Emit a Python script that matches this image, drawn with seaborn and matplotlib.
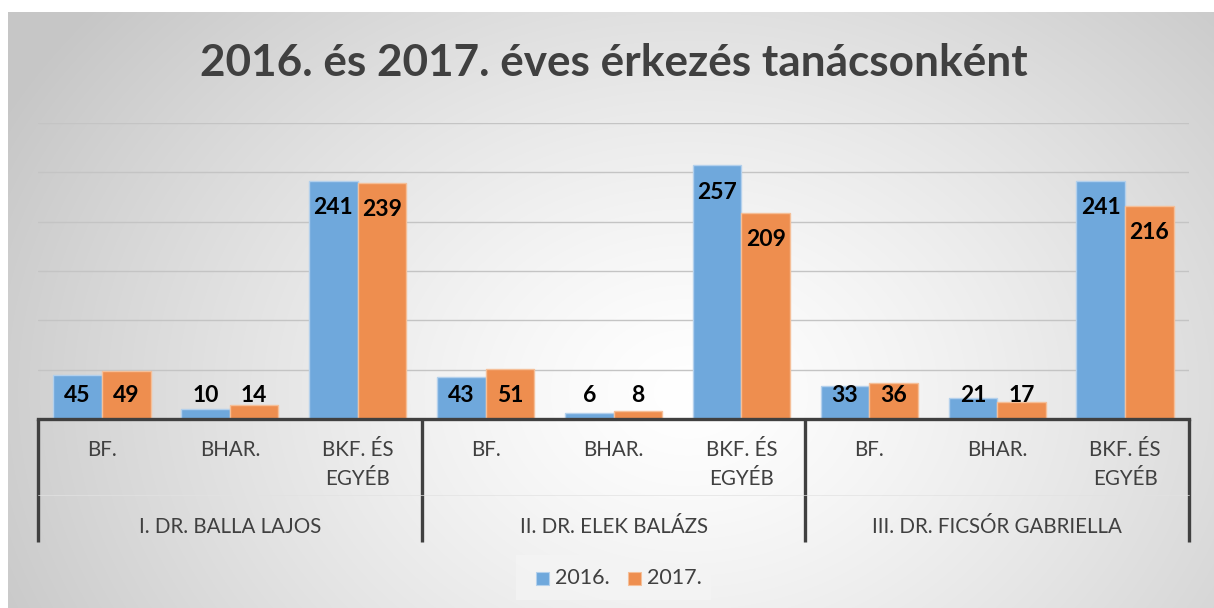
import numpy as np
import pandas as pd
import seaborn as sns
import matplotlib.pyplot as plt
from matplotlib.patches import Rectangle

# Adatok
tanacsok = ['I. DR. BALLA LAJOS', 'II. DR. ELEK BALÁZS', 'III. DR. FICSÓR GABRIELLA']
kategoriak = ['BF.', 'BHAR.', 'BKF. ÉS\nEGYÉB']
ertek_2016 = [45, 10, 241, 43, 6, 257, 33, 21, 241]
ertek_2017 = [49, 14, 239, 51, 8, 209, 36, 17, 216]
evek = ['2016.', '2017.']
szinek = ['#6FA8DC', '#EE8E4F']
keret_szinek = ['#b3d0ec', '#f5bf98']

kulcsok = [f'{t}|{k}' for t in tanacsok for k in kategoriak]
df = pd.DataFrame({
    'kulcs': kulcsok * 2,
    'ertek': ertek_2016 + ertek_2017,
    'ev': [evek[0]] * 9 + [evek[1]] * 9,
})

sns.set_style('white')
plt.rcParams['font.family'] = ['Lato', 'DejaVu Sans']

W, H = 1214, 608
fig = plt.figure(figsize=(W / 100, H / 100), dpi=100, facecolor='white')

# Háttér: radiális átmenet
bg = fig.add_axes([8 / W, 0, 1 - 8 / W, 1 - 12 / H])
yy, xx = np.mgrid[0:596, 0:1206]
d = np.sqrt(((xx - 680) / 640.0) ** 2 + ((yy - 380) / 500.0) ** 2)
szurke = 1 - 0.22 * np.clip(d / 1.2, 0, 1) ** 1.3
bg.imshow(np.dstack([szurke] * 3), aspect='auto', extent=[0, 1, 0, 1], origin='upper')
bg.set_axis_off()

ax = fig.add_axes([38 / W, (H - 419) / H, (1189 - 38) / W, (419 - 123) / H])
ax.patch.set_alpha(0)
sns.barplot(data=df, x='kulcs', y='ertek', hue='ev', palette=szinek, width=0.76,
            saturation=1, linewidth=1, ax=ax, legend=False)
for cont, ec in zip(ax.containers, keret_szinek):
    for bar in cont:
        bar.set_edgecolor(ec)
ax.set_ylim(0, 300)
ax.set_xlim(-0.5, 8.5)
ax.set_yticks([50, 100, 150, 200, 250, 300])
ax.yaxis.grid(True, color='#c4c4c4', linewidth=1)
ax.set_axisbelow(True)
ax.set_yticklabels([])
ax.tick_params(left=False, bottom=False)
ax.set_xticks([])
ax.set_xlabel('')
ax.set_ylabel('')
for s in ['top', 'right', 'left']:
    ax.spines[s].set_visible(False)
ax.spines['bottom'].set_color('#404040')
ax.spines['bottom'].set_linewidth(2.4)

# Értékcímkék
for cont in ax.containers:
    for bar in cont:
        v = bar.get_height()
        y = max(v - 27, 24)
        ax.text(bar.get_x() + bar.get_width() / 2, y, f'{int(round(v))}',
                ha='center', va='center', fontsize=16.5, fontweight='bold', color='black')

# Többszintű kategóriatengely
tr = ax.get_xaxis_transform()
for i, k in enumerate(kulcsok):
    ax.text(i, -0.07, k.split('|')[1], transform=tr, ha='center', va='top',
            fontsize=14.8, color='#404040', linespacing=1.55)
for j, t in enumerate(tanacsok):
    ax.text(3 * j + 1, -0.365, t, transform=tr, ha='center', va='center',
            fontsize=14.8, color='#404040')
for x in [-0.5, 2.5, 5.5, 8.5]:
    ax.plot([x, x], [0, -0.415], transform=tr, color='#404040', linewidth=2.4,
            clip_on=False, solid_capstyle='butt')
ax.plot([-0.5, 8.5], [-0.258, -0.258], transform=tr, color='#e2e2e2', linewidth=0.5,
        clip_on=False)

# Cím
fig.text(614 / W, 1 - 63 / H, '2016. és 2017. éves érkezés tanácsonként',
         ha='center', va='center', fontsize=31.8, fontweight='bold', color='#404040')

# Jelmagyarázat
fig.patches.append(Rectangle((516 / W, 1 - 600 / H), 195 / W, 45 / H,
                             transform=fig.transFigure, facecolor='#f4f4f4',
                             edgecolor='none', alpha=0.8, zorder=1))
lx = [536, 628]
for x0, ev, c, ec in zip(lx, evek, szinek, keret_szinek):
    fig.patches.append(Rectangle((x0 / W, 1 - 585 / H), 13 / W, 13 / H,
                                 transform=fig.transFigure, facecolor=c,
                                 edgecolor=ec, linewidth=0.8, zorder=2))
    fig.text((x0 + 19) / W, 1 - 578 / H, ev, ha='left', va='center',
             fontsize=15.5, color='#404040')

fig.savefig('out.png', dpi=100, facecolor='white')
